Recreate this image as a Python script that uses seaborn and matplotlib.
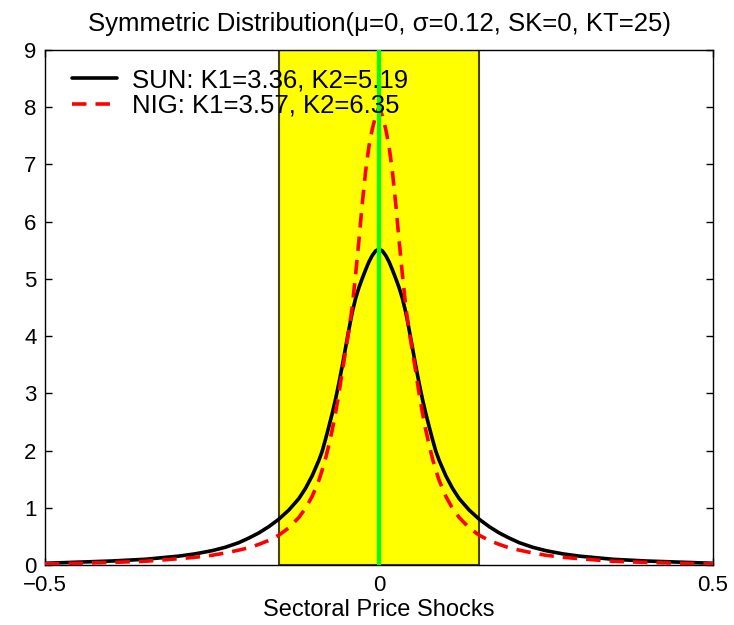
import numpy as np
import pandas as pd
import matplotlib
matplotlib.use("Agg")
import matplotlib.pyplot as plt
import seaborn as sns
from matplotlib.lines import Line2D

# ---- data (curves are symmetric about 0) ----
half_x = [0.0, 0.005, 0.01, 0.015, 0.02, 0.025, 0.03, 0.035, 0.04, 0.045, 0.05,
          0.055, 0.06, 0.065, 0.07, 0.075, 0.08, 0.085, 0.09, 0.10, 0.11, 0.12,
          0.135, 0.15, 0.165, 0.18, 0.195, 0.21, 0.23, 0.25, 0.275, 0.30, 0.35,
          0.40, 0.45, 0.50]
sun_half = [5.52, 5.49, 5.41, 5.30, 5.16, 5.01, 4.85, 4.66, 4.42, 4.12, 3.80,
            3.48, 3.18, 2.90, 2.65, 2.42, 2.20, 1.99, 1.83, 1.56, 1.34, 1.16,
            0.96, 0.80, 0.67, 0.56, 0.47, 0.39, 0.31, 0.25, 0.195, 0.155, 0.10,
            0.07, 0.05, 0.03]
nig_half = [8.00, 7.85, 7.62, 7.32, 6.88, 6.32, 5.68, 5.08, 4.52, 4.10, 3.74,
            3.38, 3.00, 2.66, 2.36, 2.10, 1.86, 1.66, 1.48, 1.20, 0.99, 0.83,
            0.65, 0.52, 0.43, 0.36, 0.30, 0.26, 0.21, 0.17, 0.135, 0.11, 0.065,
            0.045, 0.03, 0.02]
band = [-0.15, 0.15]
center = 0.0
series_labels = ["SUN: K1=3.36, K2=5.19", "NIG: K1=3.57, K2=6.35"]
title = "Symmetric Distribution(\u03bc=0, \u03c3=0.12, SK=0, KT=25)"
xlabel = "Sectoral Price Shocks"
xticks = [-0.5, 0, 0.5]
xticklabels = ["\u22120.5", "0", "0.5"]
yticks = list(range(0, 10))

x_full = [-v for v in half_x[::-1]] + half_x[1:]
sun_full = sun_half[::-1] + sun_half[1:]
nig_full = nig_half[::-1] + nig_half[1:]

df = pd.DataFrame({
    "x": x_full * 2,
    "y": sun_full + nig_full,
    "series": [series_labels[0]] * len(x_full) + [series_labels[1]] * len(x_full),
})

sns.set_style("white")
plt.rcParams["font.family"] = ["Liberation Sans", "DejaVu Sans"]
plt.rcParams["text.color"] = "black"
plt.rcParams["axes.labelcolor"] = "black"
plt.rcParams["xtick.color"] = "black"
plt.rcParams["ytick.color"] = "black"

fig = plt.figure(figsize=(7.34, 6.25), dpi=100)
ax = fig.add_axes([45 / 734, 1 - 565 / 625, (713 - 45) / 734, (565 - 50) / 625])

ax.axvspan(band[0], band[1], facecolor="#ffff00", edgecolor="#4a4300", linewidth=1.5, zorder=1)

sns.lineplot(data=df, x="x", y="y", hue="series", style="series",
             palette=["black", "#ff0000"], dashes=[(None, None), (4, 2.5)],
             linewidth=2.6, ax=ax, legend=False, zorder=3, sort=True)

ax.axvline(center, color="#00ff00", linewidth=3, zorder=4)

handles = [Line2D([], [], color="black", lw=2.6),
           Line2D([], [], color="#ff0000", lw=2.6, ls=(0, (4, 2.5)))]
leg = ax.legend(handles, series_labels, loc="upper left", frameon=False,
                fontsize=18.5, handlelength=1.75, handletextpad=0.6,
                labelspacing=0.06, borderaxespad=0.0, borderpad=0.0,
                bbox_to_anchor=(0.04, 0.965))
leg.set_zorder(5)
for t in leg.get_texts():
    t.set_color("black")

ax.set_xlim(-0.5, 0.5)
ax.set_ylim(0, 9)
ax.set_xticks(xticks)
ax.set_xticklabels(xticklabels)
ax.set_yticks(yticks)
ax.tick_params(direction="in", length=5, width=1, labelsize=16,
               top=True, right=True, bottom=True, left=True, pad=6)
ax.tick_params(axis="x", pad=7)
ax.set_xlabel(xlabel, fontsize=17, labelpad=2)
ax.set_ylabel("")
ax.set_title(title, fontsize=18.5, pad=14)
for s in ax.spines.values():
    s.set_visible(True)
    s.set_color("black")
    s.set_linewidth(1.0)

fig.savefig("out.png", dpi=100, facecolor="white")
